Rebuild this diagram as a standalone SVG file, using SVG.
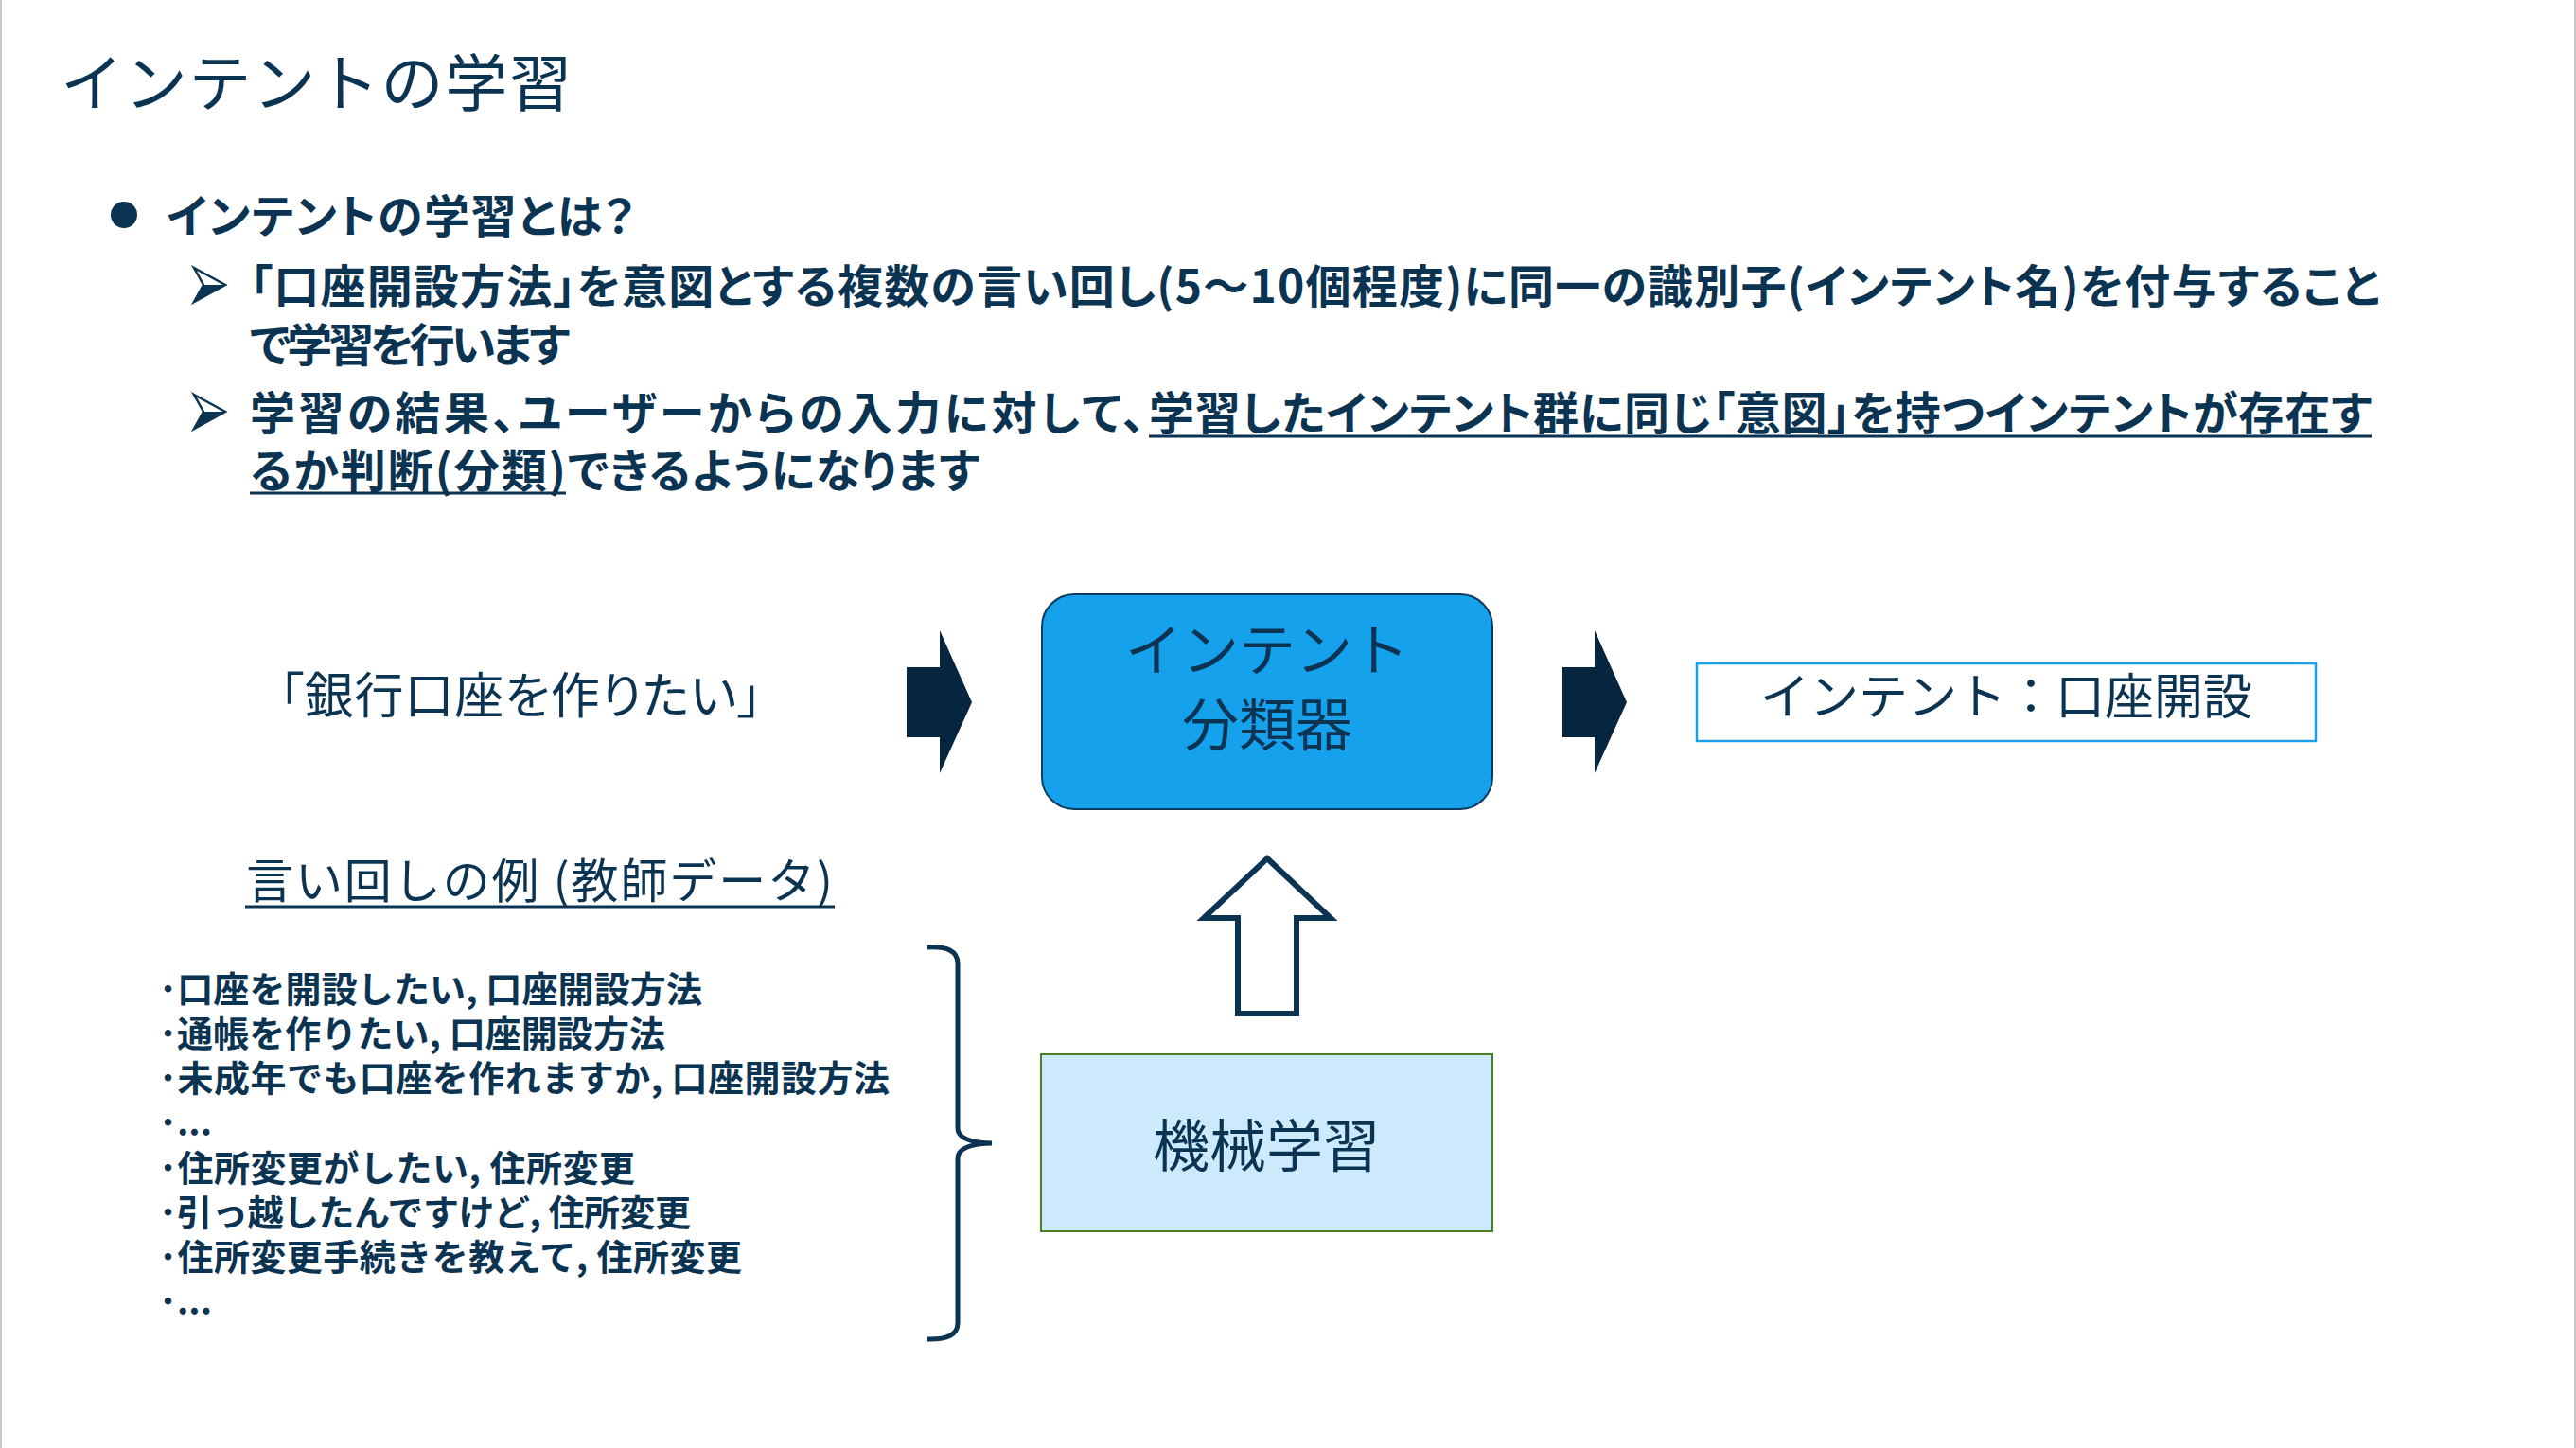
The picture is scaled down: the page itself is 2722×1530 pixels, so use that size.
<svg xmlns="http://www.w3.org/2000/svg" width="2722" height="1530" viewBox="0 0 2722 1530">
<style>
text{font-family:"Noto Sans CJK JP","Noto Sans",sans-serif;fill:#0b3352}
.pal{font-feature-settings:"palt"}
.h1{font-size:66px}
.b{font-size:48px;font-weight:700}
.mid{text-anchor:middle}
.ul{stroke:#0b3352;stroke-width:3}
.blk{fill:#06263f}
.list{font-size:38px;font-weight:700}
.ah{fill:#ffffff;stroke:#0b3352;stroke-width:2.5;stroke-linejoin:miter}
.ahf{fill:#0b3352}
</style>
<defs>
<g id="arrowBullet">
<polygon class="ah" points="0,0 33,18 0,36 10,18"/>
<polygon class="ahf" points="10,18 33,18 0,36"/>
</g>
</defs>
<rect x="0" y="0" width="2722" height="1530" fill="#ffffff"/>
<line x1="1" y1="0" x2="1" y2="1530" stroke="#c8c8c8" stroke-width="2"/>
<line x1="2721" y1="0" x2="2721" y2="1530" stroke="#c8c8c8" stroke-width="2"/>

<g id="title">
<text class="h1" x="64" y="112" textLength="540">インテントの学習</text>
</g>

<g id="bullets">
<circle cx="131" cy="227" r="14" fill="#0b3352"/>
<text class="b pal" x="176" y="246" textLength="495">インテントの学習とは？</text>
<use href="#arrowBullet" x="205" y="283"/>
<text class="b pal" x="264" y="320" textLength="2251">「口座開設方法」を意図とする複数の言い回し(5～10個程度)に同一の識別子(インテント名)を付与すること</text>
<text class="b pal" x="264" y="382" textLength="338">で学習を行います</text>
<use href="#arrowBullet" x="205" y="417"/>
<text class="b pal" x="264" y="454" textLength="946">学習の結果、ユーザーからの入力に対して、</text>
<text class="b pal" x="1214" y="454" textLength="1292">学習したインテント群に同じ「意図」を持つインテントが存在す</text>
<line class="ul" x1="1214" y1="461" x2="2506" y2="461"/>
<text class="b pal" x="264" y="515" textLength="334">るか判断(分類)</text>
<line class="ul" x1="264" y1="521" x2="598" y2="521"/>
<text class="b pal" x="600" y="515" textLength="435">できるようになります</text>
</g>

<g id="input">
<text class="pal" x="295" y="754" style="font-size:52px" textLength="510">「銀行口座を作りたい」</text>
</g>

<g id="classifier">
<rect x="1101" y="628" width="476" height="227" rx="34" ry="34" fill="#16a1ec" stroke="#0a3a5e" stroke-width="2"/>
<text class="mid" x="1339" y="709" style="font-size:60px">インテント</text>
<text class="mid" x="1339" y="788" style="font-size:60px">分類器</text>
</g>

<g id="result">
<rect x="1793" y="701" width="654" height="82" fill="#ffffff" stroke="#1aa0e8" stroke-width="2.5"/>
<text class="mid" x="2120" y="755" style="font-size:52px">インテント：口座開設</text>
</g>

<g id="ml">
<rect x="1100" y="1114" width="477" height="187" fill="#cdeafd" stroke="#4a7f22" stroke-width="2"/>
<text class="mid" x="1338" y="1233" style="font-size:60px">機械学習</text>
</g>

<g id="examples">
<text x="260" y="949" style="font-size:50px" textLength="620">言い回しの例 (教師データ)</text>
<line class="ul" x1="259" y1="958" x2="882" y2="958"/>
<text class="list" x="168" y="1059" textLength="574">･口座を開設したい, 口座開設方法</text>
<text class="list" x="168" y="1106" textLength="535">･通帳を作りたい, 口座開設方法</text>
<text class="list" x="168" y="1153" textLength="772">･未成年でも口座を作れますか, 口座開設方法</text>
<text class="list" x="168" y="1200">･...</text>
<text class="list" x="168" y="1248" textLength="503">･住所変更がしたい, 住所変更</text>
<text class="list" x="168" y="1295" textLength="562">･引っ越したんですけど, 住所変更</text>
<text class="list" x="168" y="1342" textLength="616">･住所変更手続きを教えて, 住所変更</text>
<text class="list" x="168" y="1389">･...</text>
<path d="M980,1001 Q1012,999 1012,1018 L1012,1192 Q1012,1207 1048,1208 Q1012,1209 1012,1224 L1012,1398 Q1012,1416 980,1415" fill="none" stroke="#0b3352" stroke-width="5"/>
</g>

<g id="connectors">
<polygon class="blk" points="958,705 993,705 993,666 1027,742 993,817 993,779 958,779"/>
<polygon class="blk" points="1651,705 1685,705 1685,666 1719,742 1685,817 1685,779 1651,779"/>
<polygon points="1339,907 1406,970 1370,970 1370,1071 1308,1071 1308,970 1272,970" fill="#ffffff" stroke="#0b3352" stroke-width="6"/>
</g>
</svg>
